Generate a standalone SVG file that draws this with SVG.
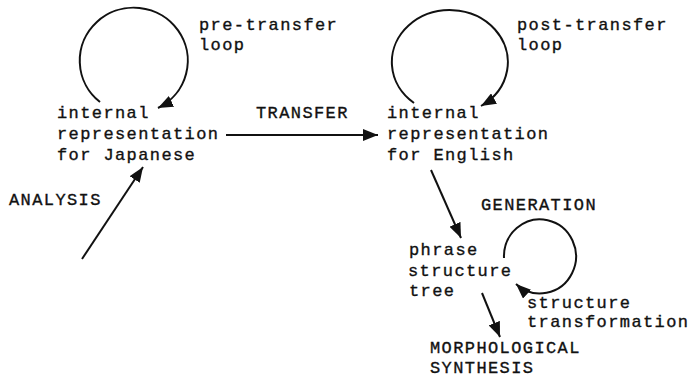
<svg xmlns="http://www.w3.org/2000/svg" width="688" height="378" viewBox="0 0 688 378">
<style>
text{font-family:"Liberation Mono","Courier New",monospace;font-size:17px;fill:#111;stroke:#111;stroke-width:0.35;letter-spacing:1.4px}
.c{fill:none;stroke:#111;stroke-width:2}
</style>
<defs>
<marker id="ah" markerUnits="userSpaceOnUse" markerWidth="16" markerHeight="12" refX="15" refY="6" orient="auto">
<path d="M0,0 L15,6 L0,12 Z" fill="#111"/>
</marker>
</defs>
<rect width="688" height="378" fill="#fff"/>
<g id="connectors">
<path class="c" d="M100,102 A54,53 0 1 1 158,108" marker-end="url(#ah)"/>
<path class="c" d="M414,103 A58,52 0 1 1 481,106" marker-end="url(#ah)"/>
<path class="c" d="M504,258 A36,37 0 1 1 516,284" marker-end="url(#ah)"/>
<path class="c" d="M226,135 L378,135" marker-end="url(#ah)"/>
<path class="c" d="M82,259 L143,167" marker-end="url(#ah)"/>
<path class="c" d="M431,170 L461,238" marker-end="url(#ah)"/>
<path class="c" d="M482,293 L500,337" marker-end="url(#ah)"/>
</g>
<g id="irj"><text x="57" y="118">internal</text><text x="57" y="139">representation</text><text x="57" y="160">for Japanese</text></g>
<g id="pre"><text x="199" y="30">pre-transfer</text><text x="199" y="50">loop</text></g>
<g id="transfer"><text x="256" y="118">TRANSFER</text></g>
<g id="ire"><text x="387" y="118">internal</text><text x="387" y="139">representation</text><text x="387" y="160">for English</text></g>
<g id="post"><text x="517" y="30">post-transfer</text><text x="517" y="50">loop</text></g>
<g id="analysis"><text x="9" y="205">ANALYSIS</text></g>
<g id="generation"><text x="481" y="210">GENERATION</text></g>
<g id="pst"><text x="409" y="255">phrase</text><text x="408" y="276">structure</text><text x="409" y="296">tree</text></g>
<g id="st"><text x="527" y="308">structure</text><text x="527" y="327">transformation</text></g>
<g id="morph"><text x="430" y="353">MORPHOLOGICAL</text><text x="430" y="373">SYNTHESIS</text></g>
</svg>
